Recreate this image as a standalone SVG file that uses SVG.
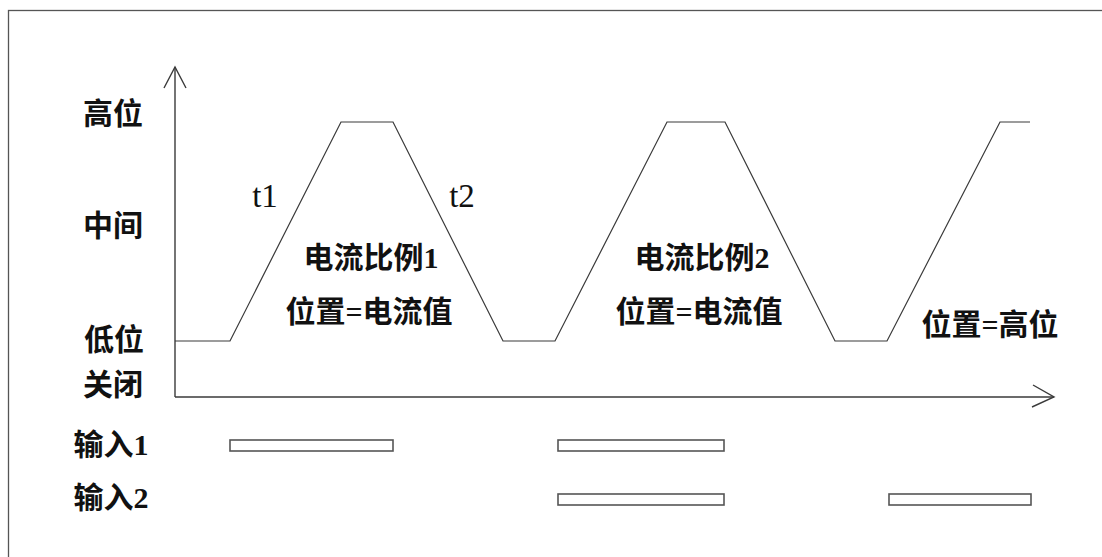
<svg xmlns="http://www.w3.org/2000/svg" width="1102" height="557" viewBox="0 0 1102 557">
<style>
.ln{fill:none;stroke:#3a3a3a;stroke-width:1.2}
.ax{fill:none;stroke:#3a3a3a;stroke-width:1.4}
.bx{fill:#fff;stroke:#555;stroke-width:1.6}
.t{font-family:"Liberation Serif","Noto Sans CJK SC",serif;font-size:33px;fill:#111;text-anchor:middle}
.c{font-family:"Liberation Serif","Noto Sans CJK SC",sans-serif;font-size:30px;font-weight:bold;fill:#111;text-anchor:middle}
</style>
<rect width="1102" height="557" fill="#fff"/>
<rect x="8.5" y="10.5" width="1200" height="700" fill="none" stroke="#555" stroke-width="1.3"/>
<g id="connectors">
<g id="y-axis">
<line class="ax" x1="175" y1="397" x2="175" y2="67"/>
<polyline class="ax" points="164,88 175,67 186,88"/>
</g>
<g id="x-axis">
<line class="ax" x1="175" y1="397" x2="1054" y2="397"/>
<polyline class="ax" points="1033,385 1054,397 1032,407"/>
</g>
<polyline id="waveform" class="ln" points="175,341 230,341 341,122 393,122 503,341 555,341 667,122 725,122 835,341 887,341 1000,122 1030,122"/>
</g>
<g id="axis-labels">
<text class="c" x="113" y="124">高位</text>
<text class="c" x="113" y="236">中间</text>
<text class="c" x="114" y="350">低位</text>
<text class="c" x="113" y="395">关闭</text>
<text class="c" x="111" y="455">输入1</text>
<text class="c" x="111" y="508">输入2</text>
</g>
<g id="slope-labels">
<text class="t" x="265" y="207">t1</text>
<text class="t" x="462" y="207">t2</text>
</g>
<g id="phase1">
<text class="c" x="371" y="268">电流比例1</text>
<text class="c" x="369" y="322">位置=电流值</text>
</g>
<g id="phase2">
<text class="c" x="702" y="268">电流比例2</text>
<text class="c" x="699" y="322">位置=电流值</text>
</g>
<g id="phase3">
<text class="c" x="990" y="335">位置=高位</text>
</g>
<g id="input1">
<rect class="bx" x="230" y="440" width="163" height="11"/>
<rect class="bx" x="558" y="440" width="166" height="11"/>
</g>
<g id="input2">
<rect class="bx" x="558" y="494" width="166" height="11"/>
<rect class="bx" x="889" y="494" width="142" height="11"/>
</g>
</svg>
